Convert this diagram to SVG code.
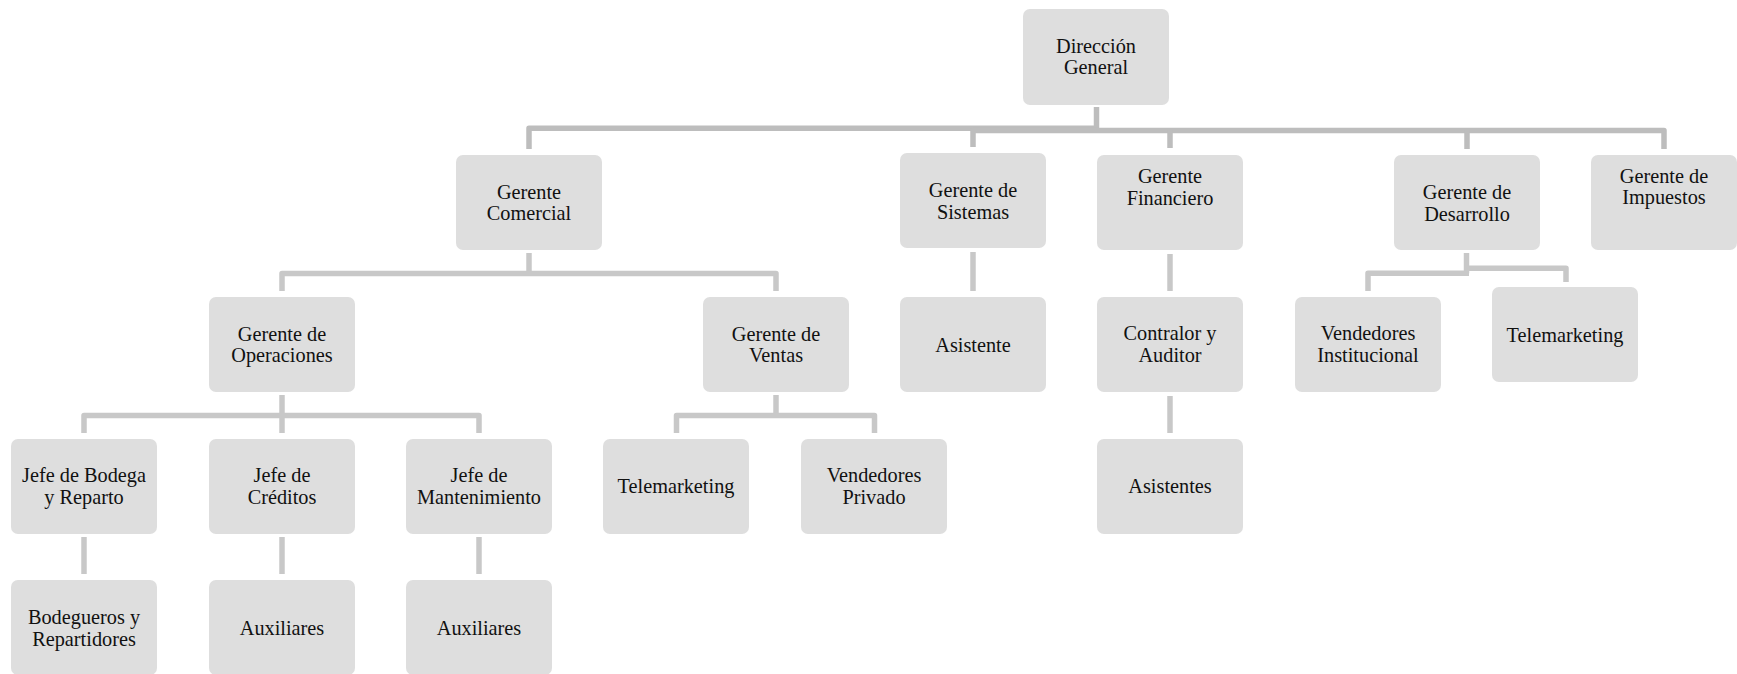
<svg xmlns="http://www.w3.org/2000/svg" width="1737" height="674" viewBox="0 0 1737 674">
<style>
.box{fill:#dedede;}
.t{font-family:'Liberation Serif','Times New Roman',Times,serif;font-size:20.3px;fill:#111;text-anchor:middle;}
.c1{fill:none;stroke:#bdbdbd;stroke-width:5.5;stroke-linejoin:round;}
.c2{fill:none;stroke:#c8c8c8;stroke-width:5.5;stroke-linejoin:round;}
</style>
<rect width="1737" height="674" fill="#ffffff"/>
<g id="connectors">
<path class="c1" d="M1096.5,107 V128.5"/>
<path class="c1" d="M529,149 V128.2 H1099"/>
<path class="c1" d="M973,147 V130.5 H1664 V149"/>
<path class="c1" d="M1170,130.5 V148"/>
<path class="c1" d="M1467,130.5 V149"/>
<path class="c2" d="M529,253 V273.5"/>
<path class="c2" d="M282,291 V273.5 H776 V291"/>
<path class="c2" d="M973,252 V291"/>
<path class="c2" d="M1170,254 V291"/>
<path class="c2" d="M1466.5,253 V273.3"/>
<path class="c2" d="M1368,291 V273.3 H1469"/>
<path class="c2" d="M1466,268.2 H1566 V282"/>
<path class="c2" d="M282,395 V415.5"/>
<path class="c2" d="M84,433 V415.5 H479 V433"/>
<path class="c2" d="M282,415.5 V433"/>
<path class="c2" d="M776,395 V415.5"/>
<path class="c2" d="M676.5,433 V415.5 H874.5 V433"/>
<path class="c2" d="M1170,396 V433"/>
<path class="c2" d="M84,537 V574"/>
<path class="c2" d="M282,537 V574"/>
<path class="c2" d="M479,537 V574"/>
</g>
<g id="n-direccion"><rect class="box" x="1023" y="9" width="146" height="96" rx="7"/><text class="t" x="1096" y="53">Dirección</text><text class="t" x="1096" y="74">General</text></g>
<g id="n-comercial"><rect class="box" x="456" y="155" width="146" height="95" rx="7"/><text class="t" x="529" y="199">Gerente</text><text class="t" x="529" y="220">Comercial</text></g>
<g id="n-sistemas"><rect class="box" x="900" y="153" width="146" height="95" rx="7"/><text class="t" x="973" y="197">Gerente de</text><text class="t" x="973" y="219">Sistemas</text></g>
<g id="n-financiero"><rect class="box" x="1097" y="155" width="146" height="95" rx="7"/><text class="t" x="1170" y="183">Gerente</text><text class="t" x="1170" y="205">Financiero</text></g>
<g id="n-desarrollo"><rect class="box" x="1394" y="155" width="146" height="95" rx="7"/><text class="t" x="1467" y="199">Gerente de</text><text class="t" x="1467" y="221">Desarrollo</text></g>
<g id="n-impuestos"><rect class="box" x="1591" y="155" width="146" height="95" rx="7"/><text class="t" x="1664" y="183">Gerente de</text><text class="t" x="1664" y="204">Impuestos</text></g>
<g id="n-operaciones"><rect class="box" x="209" y="297" width="146" height="95" rx="7"/><text class="t" x="282" y="340.5">Gerente de</text><text class="t" x="282" y="362">Operaciones</text></g>
<g id="n-ventas"><rect class="box" x="703" y="297" width="146" height="95" rx="7"/><text class="t" x="776" y="340.5">Gerente de</text><text class="t" x="776" y="362">Ventas</text></g>
<g id="n-asistente"><rect class="box" x="900" y="297" width="146" height="95" rx="7"/><text class="t" x="973" y="351.5">Asistente</text></g>
<g id="n-contralor"><rect class="box" x="1097" y="297" width="146" height="95" rx="7"/><text class="t" x="1170" y="340">Contralor y</text><text class="t" x="1170" y="362">Auditor</text></g>
<g id="n-vend-inst"><rect class="box" x="1295" y="297" width="146" height="95" rx="7"/><text class="t" x="1368" y="340">Vendedores</text><text class="t" x="1368" y="362">Institucional</text></g>
<g id="n-telemarketing2"><rect class="box" x="1492" y="287" width="146" height="95" rx="7"/><text class="t" x="1565" y="341.5">Telemarketing</text></g>
<g id="n-jefe-bodega"><rect class="box" x="11" y="439" width="146" height="95" rx="7"/><text class="t" x="84" y="482">Jefe de Bodega</text><text class="t" x="84" y="504">y Reparto</text></g>
<g id="n-jefe-creditos"><rect class="box" x="209" y="439" width="146" height="95" rx="7"/><text class="t" x="282" y="482">Jefe de</text><text class="t" x="282" y="504">Créditos</text></g>
<g id="n-jefe-mant"><rect class="box" x="406" y="439" width="146" height="95" rx="7"/><text class="t" x="479" y="482">Jefe de</text><text class="t" x="479" y="504">Mantenimiento</text></g>
<g id="n-telemarketing1"><rect class="box" x="603" y="439" width="146" height="95" rx="7"/><text class="t" x="676" y="493">Telemarketing</text></g>
<g id="n-vend-privado"><rect class="box" x="801" y="439" width="146" height="95" rx="7"/><text class="t" x="874" y="482">Vendedores</text><text class="t" x="874" y="504">Privado</text></g>
<g id="n-asistentes"><rect class="box" x="1097" y="439" width="146" height="95" rx="7"/><text class="t" x="1170" y="493">Asistentes</text></g>
<g id="n-bodegueros"><rect class="box" x="11" y="580" width="146" height="95" rx="7"/><text class="t" x="84" y="624">Bodegueros y</text><text class="t" x="84" y="646">Repartidores</text></g>
<g id="n-auxiliares1"><rect class="box" x="209" y="580" width="146" height="95" rx="7"/><text class="t" x="282" y="635">Auxiliares</text></g>
<g id="n-auxiliares2"><rect class="box" x="406" y="580" width="146" height="95" rx="7"/><text class="t" x="479" y="635">Auxiliares</text></g>
</svg>
